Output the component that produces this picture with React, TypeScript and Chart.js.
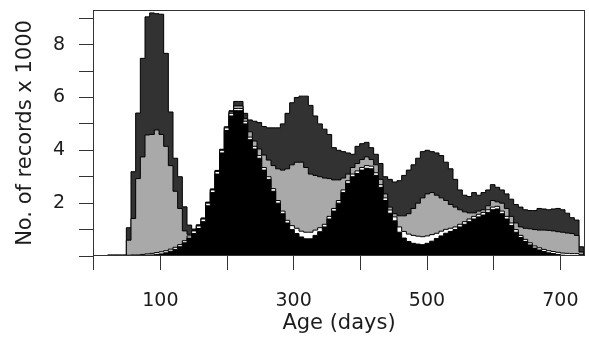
import { useEffect, useRef } from 'react';
import { Chart, registerables } from 'chart.js';

Chart.register(...registerables);

// Age bins are one week wide, starting at day 0.
const BIN_DAYS = 7;

// Number of records x 1000 per weekly age bin, one array per group (stacked bottom to top).
const BLACK = [
  0, 0, 0, 0.01, 0.01, 0.01, 0.01, 0.01, 0.02, 0.02,
  0.02, 0.03, 0.04, 0.06, 0.08, 0.12, 0.18, 0.25, 0.35, 0.5,
  0.68, 0.85, 1.04, 1.3, 1.9, 2.4, 3.1, 3.9, 4.75, 5.3,
  5.5, 5.5, 5.0, 4.4, 4.05, 3.7, 3.25, 2.9, 2.45, 2.0,
  1.6, 1.25, 1.0, 0.85, 0.72, 0.65, 0.65, 0.78, 0.92, 1.1,
  1.4, 1.7, 2.0, 2.4, 2.75, 3.0, 3.12, 3.25, 3.32, 3.3,
  3.05, 2.6, 2.1, 1.62, 1.33, 0.9, 0.68, 0.55, 0.48, 0.45,
  0.43, 0.48, 0.56, 0.66, 0.76, 0.86, 0.93, 1.0, 1.1, 1.2,
  1.3, 1.4, 1.48, 1.55, 1.65, 1.75, 1.78, 1.6, 1.4, 1.15,
  0.9, 0.7, 0.55, 0.42, 0.3, 0.23, 0.17, 0.12, 0.09, 0.06,
  0.03, 0.02, 0.01, 0.01, 0,
];

const WHITE = [
  0, 0, 0, 0.02, 0.02, 0.02, 0.02, 0.02, 0.02, 0.02,
  0.04, 0.05, 0.06, 0.07, 0.08, 0.08, 0.08, 0.08, 0.08, 0.08,
  0.08, 0.1, 0.1, 0.1, 0.1, 0.1, 0.1, 0.1, 0.1, 0.1,
  0.08, 0.08, 0.1, 0.1, 0.1, 0.1, 0.1, 0.1, 0.1, 0.1,
  0.1, 0.1, 0.15, 0.2, 0.22, 0.25, 0.25, 0.2, 0.15, 0.1,
  0.1, 0.1, 0.1, 0.1, 0.1, 0.1, 0.1, 0.1, 0.1, 0.1,
  0.1, 0.1, 0.1, 0.12, 0.15, 0.2, 0.25, 0.28, 0.3, 0.3,
  0.3, 0.28, 0.25, 0.2, 0.18, 0.15, 0.12, 0.1, 0.1, 0.1,
  0.1, 0.1, 0.1, 0.1, 0.1, 0.1, 0.1, 0.1, 0.1, 0.1,
  0.1, 0.08, 0.08, 0.08, 0.08, 0.08, 0.08, 0.08, 0.08, 0.08,
  0.08, 0.08, 0.08, 0.08, 0.05,
];

const LIGHT = [
  0, 0, 0, 0, 0, 0, 0, 0.57, 1.38, 2.89,
  3.69, 4.5, 4.5, 4.64, 4.44, 3.95, 3.16, 2.12, 1.37, 0.37,
  0.06, 0.02, 0.02, 0.02, 0.02, 0.02, 0.02, 0.02, 0.02, 0.05,
  0.1, 0.1, 0.1, 0.2, 0.2, 0.25, 0.47, 0.63, 0.87, 1.2,
  1.55, 1.95, 2.3, 2.5, 2.61, 2.45, 2.2, 2.07, 1.93, 1.75,
  1.43, 1.08, 0.78, 0.45, 0.25, 0.25, 0.28, 0.3, 0.33, 0.25,
  0.3, 0.2, 0.15, 0.11, 0.12, 0.42, 0.59, 0.77, 1.02, 1.25,
  1.47, 1.59, 1.59, 1.44, 1.26, 1.09, 0.9, 0.75, 0.55, 0.37,
  0.23, 0.13, 0.12, 0.1, 0.15, 0.25, 0.17, 0.3, 0.3, 0.25,
  0.25, 0.32, 0.42, 0.53, 0.62, 0.67, 0.73, 0.77, 0.78, 0.78,
  0.79, 0.77, 0.76, 0.69, 0.1,
];

const DARK = [
  0, 0, 0, 0, 0, 0, 0, 0.47, 1.77, 2.48,
  3.73, 4.47, 4.6, 4.4, 4.55, 3.52, 2.03, 1.25, 1.2, 0.91,
  0.35, 0.05, 0.02, 0.02, 0.02, 0.02, 0.02, 0.02, 0.02, 0.05,
  0.17, 0.17, 0.2, 0.45, 0.75, 1.0, 1.08, 1.22, 1.43, 1.55,
  1.75, 2.1, 2.35, 2.45, 2.5, 2.7, 2.6, 2.25, 2.0, 1.85,
  1.67, 1.22, 1.12, 1.0, 0.8, 0.5, 0.65, 0.6, 0.55, 0.45,
  0.4, 0.6, 0.65, 1.05, 1.2, 1.33, 1.53, 1.65, 1.65, 1.7,
  1.75, 1.65, 1.55, 1.6, 1.6, 1.45, 1.35, 1.05, 0.75, 0.63,
  0.62, 0.77, 0.6, 0.65, 0.6, 0.6, 0.55, 0.5, 0.55, 0.65,
  0.7, 0.75, 0.7, 0.69, 0.72, 0.82, 0.8, 0.78, 0.83, 0.88,
  0.85, 0.75, 0.6, 0.58, 0.2,
];

const X_TICKS = [0, 100, 200, 300, 400, 500, 600, 700];
const X_LABELS = ['', '100', '', '300', '', '500', '', '700'];
const Y_TICKS = [0, 1, 2, 3, 4, 5, 6, 7, 8, 9];
const Y_LABELS = ['', '', '2', '', '4', '', '6', '', '8', ''];

const X_TITLE = 'Age (days)';
const Y_TITLE = 'No. of records x 1000';

const LAYERS = [BLACK, WHITE, LIGHT, DARK];
const FILLS = ['#000000', '#ffffff', '#a9a9a9', '#323232'];

function cumulativeTop(k: number): number[] {
  return BLACK.map((_, i) => {
    let s = 0;
    for (let j = 0; j <= k; j++) s += LAYERS[j][i];
    return s;
  });
}

function toSteps(values: number[]) {
  const pts = values.map((v, i) => ({ x: i * BIN_DAYS, y: v }));
  pts.push({ x: values.length * BIN_DAYS, y: 0 });
  return pts;
}

const boxPlugin = {
  id: 'plotBox',
  afterDraw(chart: any) {
    const { ctx, chartArea: a } = chart;
    ctx.save();
    ctx.strokeStyle = '#333333';
    ctx.lineWidth = 1;
    ctx.strokeRect(
      Math.round(a.left) + 0.5,
      Math.round(a.top) + 0.5,
      Math.round(a.right) - Math.round(a.left) - 1,
      Math.round(a.bottom) - Math.round(a.top) - 1
    );
    ctx.restore();
  },
};

const FONT = 'DejaVu Sans';
const TEXT = '#1c1c1c';

export default function App() {
  const ref = useRef<HTMLCanvasElement>(null);

  useEffect(() => {
    if (!ref.current) return;
    const datasets = LAYERS.map((_, k) => ({
      label: 'group ' + (k + 1),
      data: toSteps(cumulativeTop(k)),
      stepped: 'before' as const,
      fill: 'origin',
      backgroundColor: FILLS[k],
      borderColor: '#000000',
      borderWidth: 1,
      pointRadius: 0,
      pointHoverRadius: 0,
      tension: 0,
    }));

    const chart = new Chart(ref.current, {
      type: 'line',
      data: { datasets },
      plugins: [boxPlugin],
      options: {
        responsive: false,
        animation: false,
        devicePixelRatio: 1,
        layout: { padding: { top: 10, right: 4, left: 0, bottom: 0 } },
        plugins: {
          legend: { display: false },
          tooltip: { enabled: false },
        },
        scales: {
          x: {
            type: 'linear',
            min: -1,
            max: 737,
            afterBuildTicks: (s: any) => {
              s.ticks = X_TICKS.map((v) => ({ value: v }));
            },
            afterFit: (s: any) => {
              s.height = 86;
              s.paddingLeft = 0;
              s.paddingRight = 0;
            },
            ticks: {
              autoSkip: false,
              maxRotation: 0,
              padding: 20,
              color: TEXT,
              font: { family: FONT, size: 19 },
              callback: (_v: any, i: number) => X_LABELS[i],
            },
            grid: {
              drawOnChartArea: false,
              drawTicks: true,
              tickLength: 14,
              tickColor: '#333333',
              tickWidth: 1,
            },
            border: { display: false },
            title: {
              display: true,
              text: X_TITLE,
              color: TEXT,
              font: { family: FONT, size: 21 },
              padding: { top: 0, bottom: 6 },
            },
          },
          y: {
            min: 0,
            max: 9.31,
            afterBuildTicks: (s: any) => {
              s.ticks = Y_TICKS.map((v) => ({ value: v }));
            },
            afterFit: (s: any) => {
              s.width = 93;
              s.paddingTop = 0;
              s.paddingBottom = 0;
            },
            ticks: {
              padding: 14,
              color: TEXT,
              font: { family: FONT, size: 19 },
              callback: (_v: any, i: number) => Y_LABELS[i],
            },
            grid: {
              drawOnChartArea: false,
              drawTicks: true,
              tickLength: 14,
              tickColor: '#333333',
              tickWidth: 1,
            },
            border: { display: false },
            title: {
              display: true,
              text: Y_TITLE,
              color: TEXT,
              font: { family: FONT, size: 21 },
              padding: { top: 13, bottom: 0 },
            },
          },
        },
      } as any,
    });
    return () => chart.destroy();
  }, []);

  return (
    <div
      style={{
        position: 'fixed',
        left: 0,
        top: 0,
        width: 589,
        height: 342,
        background: '#ffffff',
      }}
    >
      <canvas
        ref={ref}
        width={589}
        height={342}
        style={{ display: 'block', width: 589, height: 342 }}
      />
    </div>
  );
}
